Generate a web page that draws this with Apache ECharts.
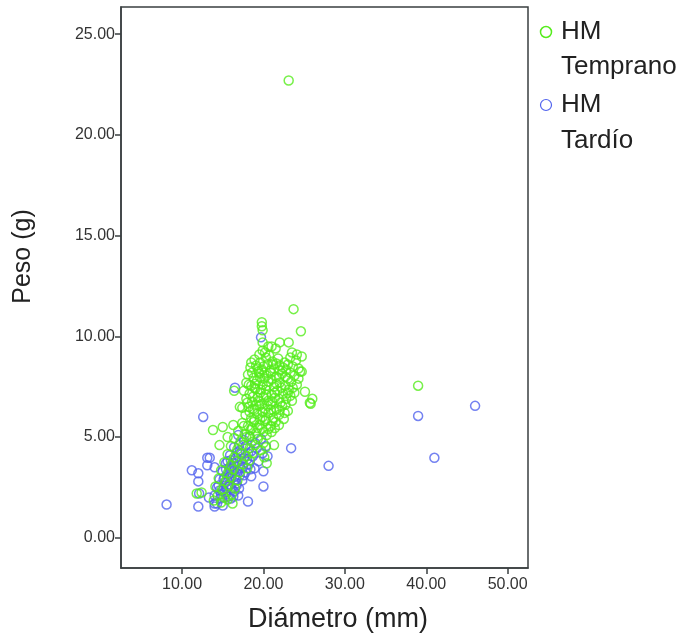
<!DOCTYPE html>
<html>
<head>
<meta charset="utf-8">
<script src="https://cdn.jsdelivr.net/npm/echarts@6/dist/echarts.min.js"></script>
<style>html,body{margin:0;padding:0;background:#fff}#c{width:689px;height:639px}</style>
</head>
<body>
<div id="c"></div>
<script>
const xTicks = [10, 20, 30, 40, 50];
const yTicks = [0, 5, 10, 15, 20, 25];
const seriesNames = ['HM\nTemprano', 'HM\nTardío'];

const tempranoPoints = [
  [23.1, 22.7], [39.0, 7.55], [23.7, 11.35], [24.6, 10.25],
  [19.8, 10.7], [19.8, 10.5], [19.9, 10.3], [19.9, 9.7], [19.9, 9.3], [21.0, 9.5], [22.0, 9.7], [23.1, 9.7],
  [23.5, 9.2], [24.1, 9.1], [24.7, 9.0], [24.7, 8.25], [25.1, 7.25], [26.0, 6.9], [25.8, 6.65], [21.5, 9.4],
  [20.6, 9.5], [19.5, 9.1], [20.2, 9.2],
  [18.9, 8.85], [19.6, 8.7], [20.3, 8.95], [21.1, 8.75], [21.8, 8.9], [22.6, 8.7], [23.3, 8.95], [24.0, 8.8], [20.7, 9.05],
  [18.4, 8.45], [19.1, 8.55], [19.8, 8.35], [20.5, 8.6], [21.3, 8.4], [22.0, 8.55], [22.8, 8.35], [23.6, 8.5], [24.3, 8.4], [19.4, 8.25],
  [18.1, 8.1], [18.8, 7.95], [19.5, 8.15], [20.1, 7.9], [20.9, 8.2], [21.6, 8.0], [22.3, 8.15], [23.0, 7.9], [23.8, 8.05], [24.5, 8.25], [22.0, 8.3],
  [17.9, 7.7], [18.5, 7.55], [19.2, 7.8], [19.9, 7.6], [20.6, 7.75], [21.3, 7.5], [22.0, 7.7], [22.7, 7.55], [23.4, 7.75], [24.1, 7.6], [18.9, 7.45], [21.0, 7.85],
  [17.6, 7.3], [18.3, 7.15], [19.0, 7.4], [19.6, 7.2], [20.3, 7.35], [21.0, 7.1], [21.7, 7.3], [22.4, 7.15], [23.1, 7.35], [23.8, 7.2], [20.0, 7.0],
  [17.9, 6.9], [18.6, 6.75], [19.3, 6.95], [20.6, 6.8], [21.4, 6.95], [22.1, 6.7], [22.8, 6.9], [23.5, 6.8], [19.8, 6.65],
  [18.2, 6.5], [18.9, 6.35], [19.5, 6.55], [20.2, 6.4], [20.9, 6.6], [21.6, 6.4], [22.3, 6.55], [23.0, 6.3], [17.4, 6.45],
  [17.8, 6.1], [18.5, 5.95], [19.2, 6.15], [19.9, 6.0], [20.6, 6.2], [21.2, 5.95], [21.9, 6.1], [22.5, 5.9],
  [17.4, 5.7], [18.1, 5.55], [18.8, 5.75], [19.5, 5.6], [20.2, 5.8], [20.9, 5.55], [21.5, 5.75],
  [16.9, 5.3], [17.7, 5.15], [18.4, 5.35], [19.1, 5.2], [19.8, 5.4], [20.4, 5.1], [21.0, 5.25],
  [16.4, 4.95], [17.2, 4.8], [17.9, 5.0], [18.6, 4.75], [19.3, 4.9], [20.0, 4.7],
  [18.5, 8.7], [20.0, 8.5], [21.6, 8.65], [23.0, 8.6], [18.6, 8.2], [20.4, 8.05], [21.9, 7.95], [23.3, 8.2],
  [18.2, 7.6], [19.6, 7.95], [21.6, 7.65], [23.0, 7.2], [24.3, 7.9], [18.7, 7.0], [20.3, 7.1], [21.9, 6.9],
  [23.3, 7.05], [19.1, 6.6], [20.9, 6.35], [22.6, 6.2], [18.3, 6.25], [19.9, 6.25], [21.3, 6.3], [18.9, 5.85],
  [20.3, 5.9], [21.9, 5.6], [19.3, 5.45], [20.6, 5.4], [17.6, 5.55], [18.3, 5.05],
  [19.3, 8.4], [20.8, 8.3], [22.4, 8.45], [19.0, 7.65], [20.4, 7.55], [22.2, 7.45], [23.6, 7.45], [19.4, 6.8],
  [21.1, 6.75], [22.7, 6.6], [18.7, 6.4], [20.5, 6.55], [22.0, 6.35], [19.6, 5.9], [21.1, 5.8], [18.6, 5.45],
  [20.0, 5.25], [21.4, 5.45], [19.7, 7.35], [21.4, 7.2], [20.1, 8.2], [22.7, 8.0], [21.2, 8.6], [18.0, 6.7],
  [16.0, 4.55], [16.8, 4.4], [17.5, 4.6], [18.3, 4.45], [19.0, 4.6], [19.7, 4.35], [20.3, 4.5],
  [15.6, 4.15], [16.4, 4.0], [17.2, 4.2], [17.9, 4.05], [18.7, 4.2], [20.1, 4.0],
  [15.2, 3.75], [16.0, 3.6], [16.7, 3.8], [17.5, 3.65], [18.3, 3.85], [20.4, 3.7],
  [14.8, 3.35], [15.6, 3.2], [16.3, 3.4], [17.1, 3.25], [18.0, 3.45],
  [14.5, 2.95], [15.3, 2.8], [16.0, 3.0], [16.8, 2.85],
  [14.1, 2.55], [14.9, 2.4], [15.7, 2.6], [16.5, 2.45],
  [11.8, 2.2], [12.4, 2.25], [14.4, 2.1], [15.2, 2.0], [16.1, 2.15],
  [13.9, 1.85], [14.8, 1.75], [15.6, 1.9], [16.2, 1.7],
  [16.4, 7.3], [17.1, 6.5], [13.8, 5.35], [15.0, 5.5], [15.6, 5.0], [16.3, 5.6], [14.6, 4.6], [21.3, 4.6], [25.7, 6.7]
];

const tardioPoints = [
  [8.1, 1.65], [28.0, 3.57], [39.0, 6.05], [41.0, 3.97], [46.0, 6.55], [23.4, 4.45], [12.6, 6.0], [19.7, 9.95],
  [16.5, 7.45], [20.0, 2.55], [20.0, 3.3], [18.1, 1.8], [12.0, 1.55], [14.0, 1.55], [11.2, 3.35], [12.0, 3.2],
  [13.1, 3.97], [13.4, 3.97], [13.1, 3.6], [14.0, 3.5], [12.0, 2.8], [12.1, 2.2], [13.3, 2.0], [14.0, 1.7],
  [16.9, 5.1], [17.6, 4.85], [18.3, 5.0], [19.0, 4.7], [19.7, 4.9], [20.3, 4.55], [20.5, 4.05],
  [16.4, 4.5], [17.1, 4.35], [17.8, 4.55], [18.5, 4.3], [19.2, 4.45], [19.9, 4.2],
  [15.9, 4.1], [16.6, 3.95], [17.3, 4.15], [18.0, 3.9], [18.7, 4.05], [19.4, 3.8],
  [15.4, 3.7], [16.1, 3.55], [16.8, 3.75], [17.5, 3.5], [18.2, 3.65], [18.9, 3.45],
  [15.0, 3.3], [15.7, 3.15], [16.4, 3.35], [17.1, 3.1], [17.8, 3.25], [18.5, 3.05],
  [14.6, 2.9], [15.3, 2.75], [16.0, 2.95], [16.7, 2.7], [17.4, 2.85],
  [14.3, 2.5], [15.0, 2.35], [15.7, 2.55], [16.4, 2.3], [17.0, 2.45],
  [14.0, 2.1], [14.7, 1.95], [15.4, 2.15], [16.0, 1.95],
  [14.3, 1.7], [15.0, 1.6],
  [15.2, 3.0], [15.9, 2.65], [16.5, 3.05], [17.2, 3.45], [16.0, 3.85], [16.8, 4.25], [15.5, 2.45], [14.8, 2.15],
  [17.6, 3.95], [18.4, 3.4], [16.3, 2.05], [15.8, 3.45], [17.0, 3.6], [16.6, 2.9], [14.5, 2.6], [15.6, 3.8],
  [15.1, 2.9], [15.8, 2.95], [16.2, 3.2], [16.9, 3.3], [17.3, 3.8], [16.4, 3.7], [15.4, 3.4], [16.1, 2.45],
  [15.3, 2.25], [16.7, 2.6], [17.6, 3.1], [18.1, 4.2], [17.0, 4.6], [15.7, 2.05], [14.6, 2.35], [16.9, 2.1]
];

const chart = echarts.init(document.getElementById('c'), null, { renderer: 'canvas' });
const green = '#55ec1c';
const blue = '#5163ee';
const axisColor = '#3a3f40';
const font = 'Liberation Sans, Arial, sans-serif';

chart.setOption({
  animation: false,
  backgroundColor: '#fff',
  grid: { left: 121, top: 7, right: 161, bottom: 71, show: true, borderColor: axisColor, borderWidth: 1.5 },
  xAxis: {
    type: 'value', min: 2.5, max: 52.5,
    name: 'Diámetro (mm)', nameLocation: 'middle', nameGap: 38,
    nameTextStyle: { fontFamily: font, fontSize: 27, color: '#222', padding: [0, 0, 0, 27] },
    axisLine: { show: true, onZero: false, lineStyle: { color: axisColor, width: 1.5 } },
    axisTick: { show: true, customValues: xTicks, length: 6, lineStyle: { color: axisColor, width: 1.5 } },
    axisLabel: { customValues: xTicks, formatter: v => v.toFixed(2), fontFamily: font, fontSize: 16, color: '#333', margin: 9 },
    splitLine: { show: false }
  },
  yAxis: {
    type: 'value', min: -1.5, max: 26.35,
    name: 'Peso (g)', nameLocation: 'middle', nameGap: 85,
    nameTextStyle: { fontFamily: font, fontSize: 25, color: '#222', padding: [0, 0, 0, 62] },
    axisLine: { show: true, onZero: false, lineStyle: { color: axisColor, width: 1.5 } },
    axisTick: { show: true, customValues: yTicks, length: 6, lineStyle: { color: axisColor, width: 1.5 } },
    axisLabel: { customValues: yTicks, formatter: v => v.toFixed(2), fontFamily: font, fontSize: 16, color: '#333', margin: 6 },
    splitLine: { show: false }
  },
  series: [
    {
      name: seriesNames[1], type: 'scatter', data: tardioPoints, symbol: 'circle', symbolSize: 9, z: 2,
      itemStyle: { color: 'rgba(0,0,0,0)', borderColor: blue, borderWidth: 1.5 }
    },
    {
      name: seriesNames[0], type: 'scatter', data: tempranoPoints, symbol: 'circle', symbolSize: 9, z: 3,
      itemStyle: { color: 'rgba(0,0,0,0)', borderColor: green, borderWidth: 1.5 }
    }
  ],
  graphic: [
    { type: 'circle', shape: { cx: 546, cy: 32, r: 5.5 }, style: { fill: 'none', stroke: green, lineWidth: 1.5 } },
    { type: 'text', x: 561, y: 32, style: { text: 'HM', font: '26px ' + font, fill: '#222', verticalAlign: 'middle' } },
    { type: 'text', x: 561, y: 67, style: { text: 'Temprano', font: '26px ' + font, fill: '#222', verticalAlign: 'middle' } },
    { type: 'circle', shape: { cx: 546, cy: 105, r: 5.5 }, style: { fill: 'none', stroke: blue, lineWidth: 1.2 } },
    { type: 'text', x: 561, y: 105, style: { text: 'HM', font: '26px ' + font, fill: '#222', verticalAlign: 'middle' } },
    { type: 'text', x: 561, y: 141, style: { text: 'Tardío', font: '26px ' + font, fill: '#222', verticalAlign: 'middle' } }
  ]
});
</script>
</body>
</html>
